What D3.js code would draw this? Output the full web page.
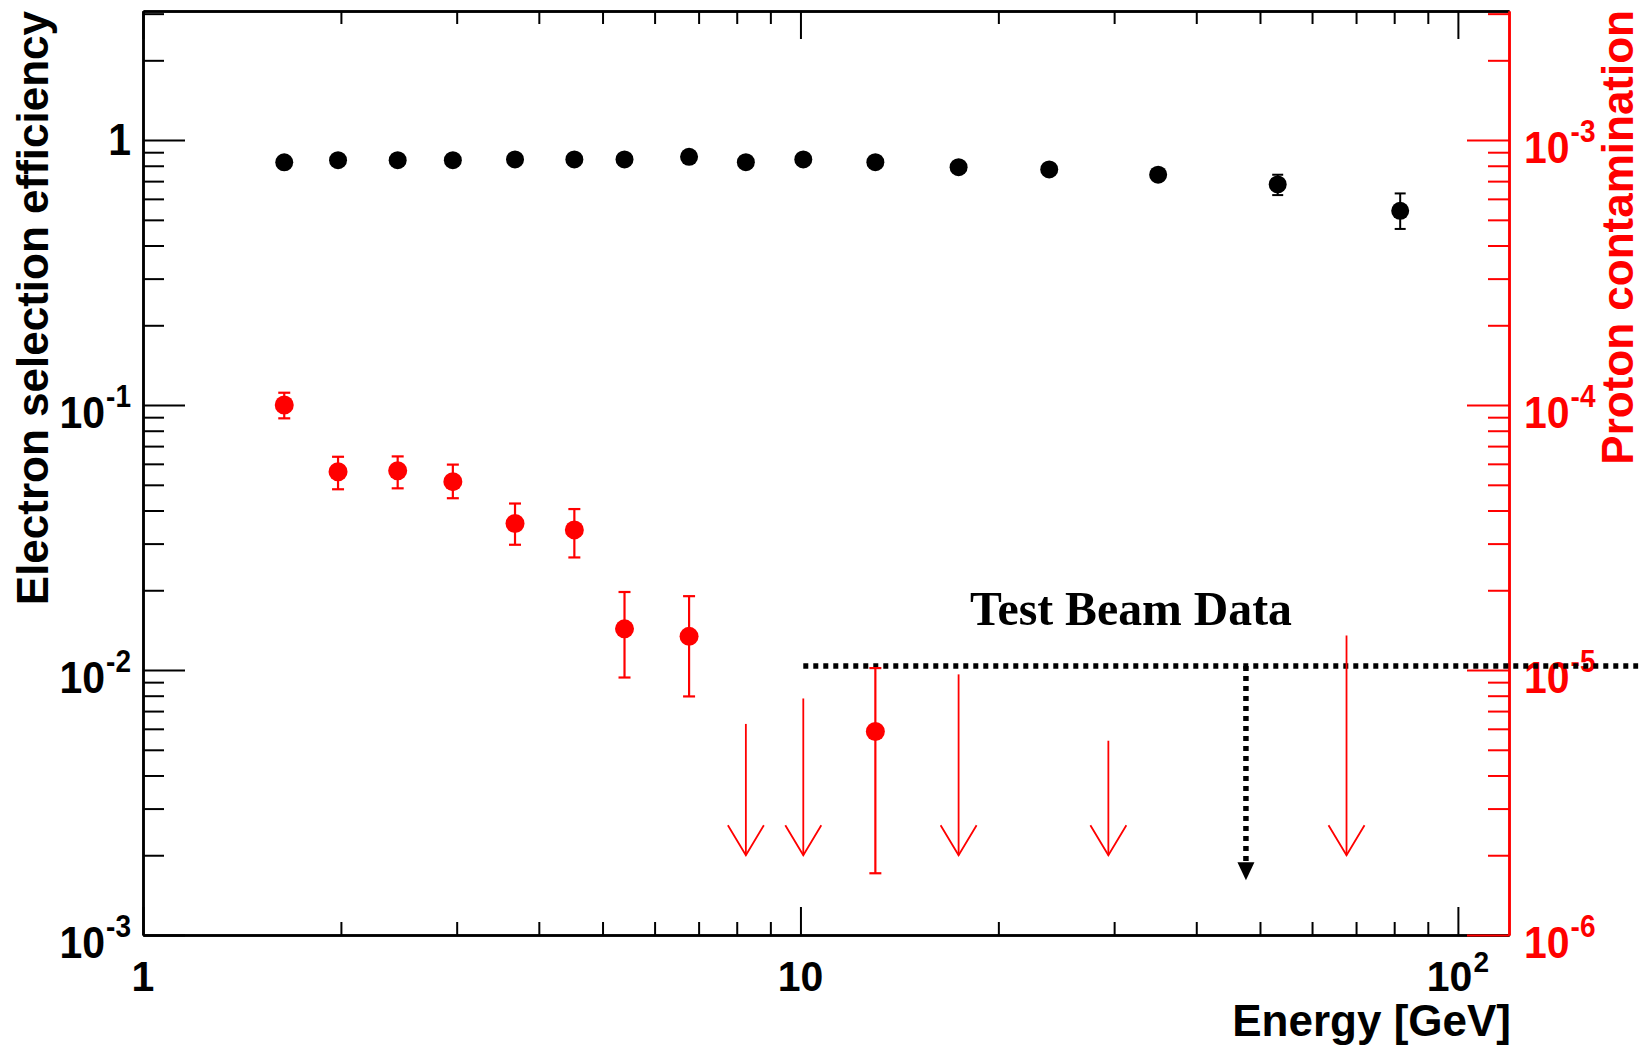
<!DOCTYPE html>
<html><head><meta charset="utf-8">
<script src="https://cdn.jsdelivr.net/npm/d3@7"></script>
<style>
html,body{margin:0;padding:0;background:#fff;}
svg{display:block;}
text{font-family:"Liberation Sans",Arial,Helvetica,sans-serif;font-weight:bold;}
</style>
</head><body>
<svg id="c" width="1652" height="1045"></svg>
<script>
// ---- data ----
// Electron selection efficiency (left axis, black)
const effEnergy = [1.64, 1.98, 2.44, 2.96, 3.68, 4.53, 5.40, 6.77, 8.26, 10.1, 13.0, 17.4, 23.9, 35.0, 53.2, 81.7];
const effValue  = [0.824, 0.840, 0.840, 0.840, 0.845, 0.845, 0.845, 0.865, 0.825, 0.845, 0.825, 0.790, 0.775, 0.740, 0.680, 0.541];
const effErrHi  = [0.03, 0.03, 0.03, 0.03, 0.03, 0.03, 0.03, 0.03, 0.03, 0.03, 0.03, 0.03, 0.03, 0.035, 0.06, 0.088];
const effErrLo  = [0.03, 0.03, 0.03, 0.03, 0.03, 0.03, 0.03, 0.03, 0.03, 0.03, 0.03, 0.03, 0.03, 0.035, 0.06, 0.079];

// Proton contamination (right axis, red)
const protEnergy = [1.64, 1.98, 2.44, 2.96, 3.68, 4.53, 5.40, 6.77, 13.0];
const protValue  = [1.0e-4, 5.6e-5, 5.65e-5, 5.14e-5, 3.57e-5, 3.38e-5, 1.43e-5, 1.34e-5, 5.86e-6];
const protUpper  = [1.113e-4, 6.38e-5, 6.4e-5, 5.96e-5, 4.25e-5, 4.05e-5, 1.97e-5, 1.90e-5, 1.017e-5];
const protLower  = [8.91e-5, 4.81e-5, 4.85e-5, 4.45e-5, 2.97e-5, 2.66e-5, 9.37e-6, 7.95e-6, 1.71e-6];

// Upper limits on proton contamination (red arrows)
const limitEnergy = [8.26, 10.1, 17.4, 29.4, 67.7];
const limitValue  = [6.26e-6, 7.81e-6, 9.63e-6, 5.41e-6, 1.35e-5];
const limitArrowTip = 2.0e-6;

// Test-beam reference line (right-axis units)
const beamLineEnergy = [10.1, 188];
const beamLineValue = 1.035e-5;
const beamArrowEnergy = 47.6;
const beamArrowTip = 1.61e-6;
const beamText = "Test Beam Data";

// axes / ticks
const xDomain = [1, 119.6];
const yLeftDomain = [1e-3, 3.07];
const yRightDomain = [1e-6, 3.07e-3];
const xMajor = [1, 10, 100];
const xMinor = [2,3,4,5,6,7,8,9,20,30,40,50,60,70,80,90];
const xLabels = [["1",""],["10",""],["10","2"]];
const yLeftMajor = [1e-3, 1e-2, 1e-1, 1];
const yLeftMinor = [2e-3,3e-3,4e-3,5e-3,6e-3,7e-3,8e-3,9e-3,2e-2,3e-2,4e-2,5e-2,6e-2,7e-2,8e-2,9e-2,0.2,0.3,0.4,0.5,0.6,0.7,0.8,0.9,2,3];
const yLeftLabels = [["10","-3"],["10","-2"],["10","-1"],["1",""]];
const yRightMajor = [1e-6, 1e-5, 1e-4, 1e-3];
const yRightMinor = yLeftMinor.map(v => v * 1e-3);
const yRightLabels = [["10","-6"],["10","-5"],["10","-4"],["10","-3"]];
const xTitle = "Energy [GeV]";
const yLeftTitle = "Electron selection efficiency";
const yRightTitle = "Proton contamination";

// ---- layout ----
const L = 143, R = 1509, T = 11, B = 935;
const RED = "#ff0000";
const svg = d3.select("#c");

const x = d3.scaleLog().domain(xDomain).range([L, R]);
const yL = d3.scaleLog().domain(yLeftDomain).range([B, T]);
const yR = d3.scaleLog().domain(yRightDomain).range([B, T]);

function styleAxis(g, color, w) {
  g.select(".domain").attr("stroke", color).attr("stroke-width", w);
  g.selectAll(".tick line").attr("stroke", color).attr("stroke-width", 2);
  g.selectAll(".tick text").remove();
}

// bottom x axis (ticks pointing up)
svg.append("g").attr("transform", `translate(0,${B})`)
  .call(d3.axisTop(x).tickValues(xMinor).tickSize(13).tickSizeOuter(0).tickFormat(""))
  .call(g => styleAxis(g, "#000", 2.5));
svg.append("g").attr("transform", `translate(0,${B})`)
  .call(d3.axisTop(x).tickValues(xMajor).tickSize(28).tickSizeOuter(0).tickFormat(""))
  .call(g => styleAxis(g, "#000", 2.5));
// top x axis (ticks pointing down)
svg.append("g").attr("transform", `translate(0,${T})`)
  .call(d3.axisBottom(x).tickValues(xMinor).tickSize(13).tickSizeOuter(0).tickFormat(""))
  .call(g => styleAxis(g, "#000", 2.5));
svg.append("g").attr("transform", `translate(0,${T})`)
  .call(d3.axisBottom(x).tickValues(xMajor).tickSize(28).tickSizeOuter(0).tickFormat(""))
  .call(g => styleAxis(g, "#000", 2.5));
// left y axis
svg.append("g").attr("transform", `translate(${L},0)`)
  .call(d3.axisRight(yL).tickValues(yLeftMinor).tickSize(21).tickSizeOuter(0).tickFormat(""))
  .call(g => styleAxis(g, "#000", 2.5));
svg.append("g").attr("transform", `translate(${L},0)`)
  .call(d3.axisRight(yL).tickValues(yLeftMajor).tickSize(42).tickSizeOuter(0).tickFormat(""))
  .call(g => styleAxis(g, "#000", 2.5));
// right y axis (red)
svg.append("g").attr("transform", `translate(${R},0)`)
  .call(d3.axisLeft(yR).tickValues(yRightMinor).tickSize(21).tickSizeOuter(0).tickFormat(""))
  .call(g => styleAxis(g, RED, 2.5));
svg.append("g").attr("transform", `translate(${R},0)`)
  .call(d3.axisLeft(yR).tickValues(yRightMajor).tickSize(42).tickSizeOuter(0).tickFormat(""))
  .call(g => styleAxis(g, RED, 2.5));

// tick labels
function expLabel(px, py, base, exp, anchor, color, supDy, sy) {
  const t = svg.append("text")
    .attr("transform", `translate(${px},${py}) scale(1,${sy})`)
    .attr("text-anchor", anchor).attr("fill", color).attr("font-size", 41);
  t.append("tspan").text(base);
  if (exp) t.append("tspan").attr("font-size", 28).attr("dx", 1).attr("dy", supDy).text(exp);
}
yLeftMajor.forEach((v, i) => {
  const [b, e] = yLeftLabels[i];
  expLabel(131, yL(v) + (e ? 23 : 15), b, e, "end", "#000", -19, 1.1);
});
yRightMajor.forEach((v, i) => {
  const [b, e] = yRightLabels[i];
  expLabel(1524, yR(v) + 23, b, e, "start", RED, -19, 1.1);
});
xMajor.forEach((v, i) => {
  const [b, e] = xLabels[i];
  expLabel(x(v), 991, b, e, "middle", "#000", -18, 1.04);
});

// titles
svg.append("text").attr("transform", "translate(48,11) rotate(-90)")
  .attr("text-anchor", "end").attr("font-size", 44).attr("fill", "#000").text(yLeftTitle);
svg.append("text").attr("transform", "translate(1633,10) rotate(-90)")
  .attr("text-anchor", "end").attr("font-size", 44).attr("fill", RED).text(yRightTitle);
svg.append("text").attr("x", 1511).attr("y", 1036)
  .attr("text-anchor", "end").attr("font-size", 44).attr("fill", "#000").text(xTitle);

// test beam reference
const by = yR(beamLineValue);
svg.append("line")
  .attr("x1", x(beamLineEnergy[0])).attr("x2", x(beamLineEnergy[1]))
  .attr("y1", by).attr("y2", by)
  .attr("stroke", "#000").attr("stroke-width", 5.5).attr("stroke-dasharray", "5,5");
const bax = x(beamArrowEnergy), tipY = yR(beamArrowTip);
svg.append("line").attr("x1", bax).attr("x2", bax).attr("y1", by).attr("y2", tipY - 17)
  .attr("stroke", "#000").attr("stroke-width", 5.5).attr("stroke-dasharray", "5,5");
svg.append("path").attr("d", `M${bax-8.5},${tipY-18}L${bax+8.5},${tipY-18}L${bax},${tipY}Z`).attr("fill", "#000");
svg.append("text").attr("x", 970).attr("y", 625)
  .attr("font-size", 49).attr("fill", "#000")
  .attr("textLength", 322).attr("lengthAdjust", "spacingAndGlyphs")
  .style("font-family", '"Liberation Serif","Times New Roman",serif')
  .text(beamText);

// red upper-limit arrows
limitEnergy.forEach((e, i) => {
  const ax = x(e), y0 = yR(limitValue[i]), y1 = yR(limitArrowTip);
  const g = svg.append("g").attr("stroke", RED).attr("stroke-width", 1.8).attr("fill", "none");
  g.append("line").attr("x1", ax).attr("x2", ax).attr("y1", y0).attr("y2", y1);
  g.append("path").attr("d", `M${ax-18},${y1-30}L${ax},${y1}L${ax+18},${y1-30}`);
});

// red points with asymmetric errors
protEnergy.forEach((e, i) => {
  const px = x(e), yh = yR(protUpper[i]), yl = yR(protLower[i]);
  const g = svg.append("g").attr("stroke", RED).attr("stroke-width", 2.2);
  g.append("line").attr("x1", px).attr("x2", px).attr("y1", yh).attr("y2", yl);
  g.append("line").attr("x1", px-6).attr("x2", px+6).attr("y1", yh).attr("y2", yh);
  g.append("line").attr("x1", px-6).attr("x2", px+6).attr("y1", yl).attr("y2", yl);
  svg.append("circle").attr("cx", px).attr("cy", yR(protValue[i])).attr("r", 9.5).attr("fill", RED);
});

// black points with errors
effEnergy.forEach((e, i) => {
  const px = x(e), yh = yL(effValue[i] + effErrHi[i]), yl = yL(effValue[i] - effErrLo[i]);
  const g = svg.append("g").attr("stroke", "#000").attr("stroke-width", 2);
  g.append("line").attr("x1", px).attr("x2", px).attr("y1", yh).attr("y2", yl);
  g.append("line").attr("x1", px-5.5).attr("x2", px+5.5).attr("y1", yh).attr("y2", yh);
  g.append("line").attr("x1", px-5.5).attr("x2", px+5.5).attr("y1", yl).attr("y2", yl);
  svg.append("circle").attr("cx", px).attr("cy", yL(effValue[i])).attr("r", 9).attr("fill", "#000");
});
</script>
</body></html>
